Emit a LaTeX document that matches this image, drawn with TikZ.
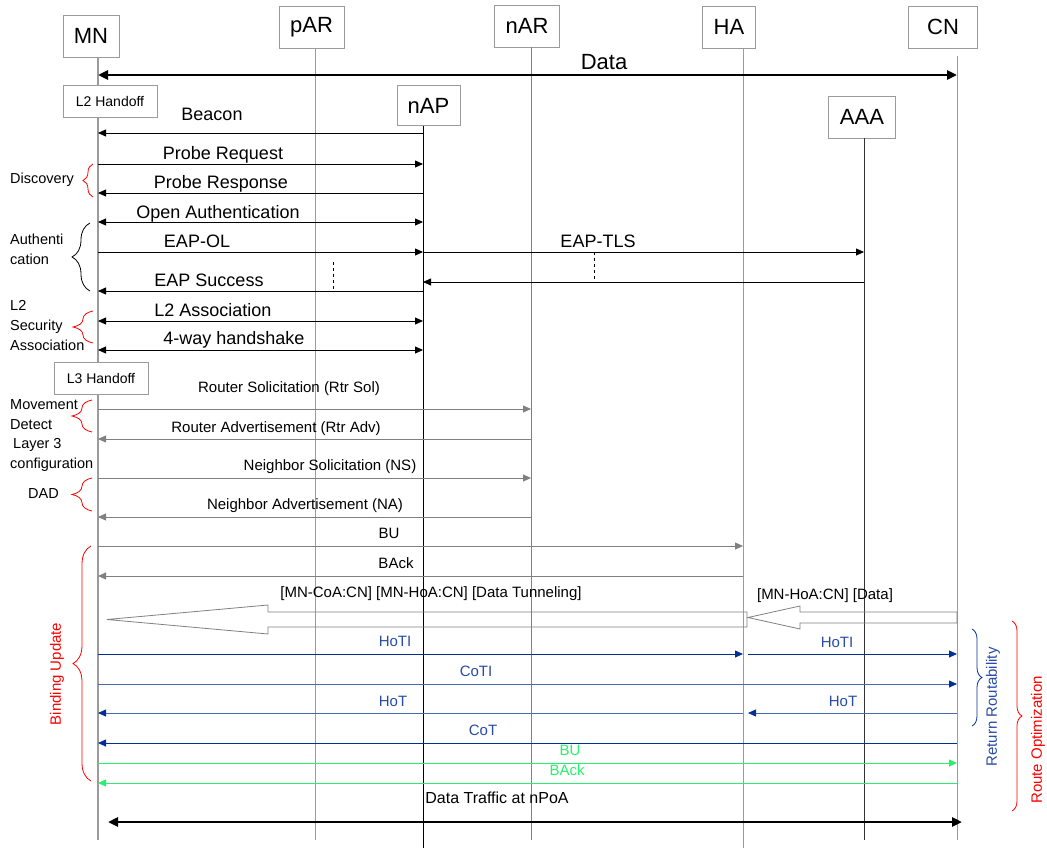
\documentclass[tikz,border=0pt]{standalone}
\usepackage{fontspec}
\setmainfont{Liberation Sans}
\usepackage{xcolor}
\usepackage{tikz}
\usetikzlibrary{arrows.meta,positioning,decorations.pathreplacing,calc}

\definecolor{lifegray}{RGB}{155,155,155}
\definecolor{msggray}{RGB}{128,128,128}
\definecolor{rrdark}{RGB}{0,48,150}
\definecolor{rrlight}{RGB}{70,105,175}
\definecolor{rrtext}{RGB}{40,75,165}
\definecolor{bugreen}{RGB}{40,240,110}

\begin{document}
\begin{tikzpicture}[x=1pt, y=-1pt,
  actor/.style={draw=lifegray, fill=white, inner sep=0pt, minimum height=42pt, font=\fontsize{22}{22}\selectfont},
  phase/.style={draw=lifegray, fill=white, inner sep=0pt, minimum width=94pt, minimum height=32pt, font=\fontsize{14}{14}\selectfont},
  life/.style={lifegray, line width=0.8pt},
  msg/.style={-{Triangle[length=8pt,width=7pt]}, line width=0.8pt},
  dmsg/.style={{Triangle[length=8pt,width=7pt]}-{Triangle[length=8pt,width=7pt]}, line width=0.8pt},
  gmsg/.style={msg, msggray},
  bmsg/.style={msg, rrdark},
  lmsg/.style={-{Triangle[length=8pt,width=7pt,color=rrdark]}, line width=0.8pt, rrlight},
  grmsg/.style={msg, bugreen},
  fat/.style={{Triangle[length=10pt,width=9pt]}-{Triangle[length=10pt,width=9pt]}, line width=2.5pt},
  lbl/.style={anchor=base, inner sep=0pt, font=\fontsize{18}{18}\selectfont},
  slbl/.style={anchor=base, inner sep=0pt, font=\fontsize{15}{15}\selectfont},
  side/.style={anchor=west, align=left, inner sep=0pt, font=\fontsize{14.5}{20}\selectfont},
  brc/.style={decorate, decoration={brace, amplitude=#1}, line width=0.8pt},
  brc/.default=10pt,
  hollow/.style={draw=msggray, line width=0.8pt},
]
\useasboundingbox (0,0) rectangle (1047,848);

% entities
\node[actor, minimum width=56pt] (MN) at (91,36) {MN};
\node[actor, minimum width=65pt] (pAR) at (311.5,27) {pAR};
\node[actor, minimum width=65pt] (nAR) at (527,26) {nAR};
\node[actor, minimum width=53pt] (HA) at (729,27) {HA};
\node[actor, minimum width=69pt] (CN) at (943,27) {CN};
\node[actor, minimum width=63pt, minimum height=40pt] (nAP) at (428.5,105.5) {nAP};
\node[actor, minimum width=67pt] (AAA) at (862,117) {AAA};

% lifelines
\coordinate (MN-l) at (98,0);
\coordinate (pAR-l) at (315,0);
\coordinate (nAR-l) at (531,0);
\coordinate (HA-l) at (743,0);
\coordinate (CN-l) at (957,0);
\coordinate (nAP-l) at (423,0);
\coordinate (AAA-l) at (864,0);

\draw[life, line width=1.6pt] (MN-l |- MN.south) -- (MN-l |- 0,840);
\draw[life] (pAR-l |- pAR.south) -- (pAR-l |- 0,840);
\draw[life, msggray] (nAR-l |- nAR.south) -- (nAR-l |- 0,840);
\draw[life] (HA-l |- HA.south) -- (HA-l |- 0,848);
\draw[life] (CN-l |- 0,56) -- (CN-l |- 0,840);
\draw[line width=0.8pt] (nAP-l |- nAP.south) -- (nAP-l |- 0,848);
\draw[line width=0.8pt, black!80] (AAA-l |- AAA.south) -- (AAA-l |- 0,840);

\node[phase] (l2ho) at (110,101) {L2 Handoff};
\node[phase] (l3ho) at (101,378) {L3 Handoff};

% data before handoff
\draw[fat] (MN-l |- 0,75) -- (CN-l |- 0,75);
\node[lbl, font=\fontsize{22}{22}\selectfont] (data) at (604,70) {Data};

% layer 2
\draw[msg] (nAP-l |- 0,133) -- (MN-l |- 0,133);
\node[lbl] (beacon) at (212,121) {Beacon};
\draw[msg] (MN-l |- 0,164) -- (nAP-l |- 0,164);
\node[lbl] (preq) at (223,160) {Probe Request};
\draw[msg] (nAP-l |- 0,193) -- (MN-l |- 0,193);
\node[lbl] (pres) at (221,189) {Probe Response};
\draw[dmsg] (MN-l |- 0,222) -- (nAP-l |- 0,222);
\node[lbl] (oauth) at (218,218) {Open Authentication};
\draw[msg] (MN-l |- 0,252) -- (nAP-l |- 0,252);
\node[lbl] (eapol) at (197,247) {EAP-OL};
\draw[msg] (nAP-l |- 0,252) -- (AAA-l |- 0,252);
\node[lbl] (eaptls) at (598,247) {EAP-TLS};
\draw[msg] (AAA-l |- 0,282) -- (nAP-l |- 0,282);
\draw[msg] (nAP-l |- 0,291) -- (MN-l |- 0,291);
\node[lbl] (eapsucc) at (209,286) {EAP Success};
\draw[dashed, line width=0.8pt] (333,262) -- (333,290);
\draw[dashed, line width=0.8pt] (594,252) -- (594,281);
\draw[dmsg] (MN-l |- 0,321) -- (nAP-l |- 0,321);
\node[lbl] (l2assoc) at (213,316) {L2 Association};
\draw[dmsg] (MN-l |- 0,350) -- (nAP-l |- 0,350);
\node[lbl] (fourway) at (234,344) {4-way handshake};

% layer 3
\draw[gmsg] (MN-l |- 0,409) -- (nAR-l |- 0,409);
\node[slbl] (rtrsol) at (289,392) {Router Solicitation (Rtr Sol)};
\draw[gmsg] (nAR-l |- 0,439) -- (MN-l |- 0,439);
\node[slbl] (rtradv) at (276,432) {Router Advertisement (Rtr Adv)};
\draw[gmsg] (MN-l |- 0,478) -- (nAR-l |- 0,478);
\node[slbl] (ns) at (330,470) {Neighbor Solicitation (NS)};
\draw[gmsg] (nAR-l |- 0,517) -- (MN-l |- 0,517);
\node[slbl] (na) at (305,509) {Neighbor Advertisement (NA)};
\draw[gmsg] (MN-l |- 0,546) -- (HA-l |- 0,546);
\node[slbl] (bu1) at (389,538) {BU};
\draw[gmsg] (HA-l |- 0,576) -- (MN-l |- 0,576);
\node[slbl] (back1) at (396,568) {BAck};

% tunnelled data
\draw[hollow] (747,612) -- (268,612) -- (268,605) -- (107,619.5) -- (268,634) -- (268,627) -- (747,627) -- cycle;
\draw[hollow] (957,612) -- (800,612) -- (800,606) -- (748,617.5) -- (800,629) -- (800,623) -- (957,623) -- cycle;
\node[slbl] (tunnel) at (431,597) {[MN-CoA:CN] [MN-HoA:CN] [Data Tunneling]};
\node[slbl] (direct) at (825,599) {[MN-HoA:CN] [Data]};

% return routability
\draw[bmsg] (MN-l |- 0,654) -- (HA-l |- 0,654);
\node[slbl, text=rrtext] (hoti1) at (395,646) {HoTI};
\draw[bmsg] ([xshift=5pt]HA-l |- 0,654) -- (CN-l |- 0,654);
\node[slbl, text=rrtext] (hoti2) at (837,647) {HoTI};
\draw[lmsg] (MN-l |- 0,684) -- (CN-l |- 0,684);
\node[slbl, text=rrtext] (coti) at (476,676) {CoTI};
\draw[lmsg] (CN-l |- 0,713) -- ([xshift=5pt]HA-l |- 0,713);
\node[slbl, text=rrtext] (hot2) at (843,706) {HoT};
\draw[lmsg] (HA-l |- 0,713) -- (MN-l |- 0,713);
\node[slbl, text=rrtext] (hot1) at (393,706) {HoT};
\draw[bmsg] (CN-l |- 0,743) -- (MN-l |- 0,743);
\node[slbl, text=rrtext] (cot) at (483,735) {CoT};
\draw[grmsg] (MN-l |- 0,763) -- (CN-l |- 0,763);
\node[slbl, text=bugreen] (bu2) at (570,755) {BU};
\draw[grmsg] (CN-l |- 0,783) -- (MN-l |- 0,783);
\node[slbl, text=bugreen] (back2) at (567,775) {BAck};

% data after handoff
\draw[fat, shorten <=10pt, shorten >=-5pt] (MN-l |- 0,822) -- (CN-l |- 0,822);
\node[slbl, font=\fontsize{16}{16}\selectfont] (dtraffic) at (497,803) {Data Traffic at nPoA};

% phases on the left
\node[side] (disc) at (10,180) {Discovery};
\draw[brc=10pt, red] (93,197) -- (93,164);
\node[side] (authn) at (10,249) {Authenti\\cation};
\draw[brc=18pt] (90,291) -- (90,223);
\node[side] (l2sec) at (10,326) {L2\\Security\\Association};
\draw[brc=20pt, red] (93,343) -- (93,311);
\node[side] (move) at (10,415) {Movement\\Detect};
\draw[brc=20pt, red] (92,432) -- (92,400);
\node[side] (l3conf) at (10,455) {\hspace{3pt}Layer 3\\configuration};
\draw[brc=20pt, red] (92,511) -- (92,478);
\node[side] (dad) at (28,494) {DAD};
\draw[brc=18pt, red] (91,781) -- (91,546);
\node[slbl, anchor=center, text=red, rotate=90] (bind) at (57,674) {Binding Update};

% phases on the right
\draw[brc=10pt, rrdark] (972,629) -- (972,726);
\node[slbl, anchor=center, text=rrtext, rotate=90] (rr) at (993,707) {Return Routability};
\draw[brc=10pt, red] (1012,621) -- (1012,811);
\node[slbl, anchor=center, text=red, rotate=90] (ro) at (1038,740) {Route Optimization};
\end{tikzpicture}
\end{document}
